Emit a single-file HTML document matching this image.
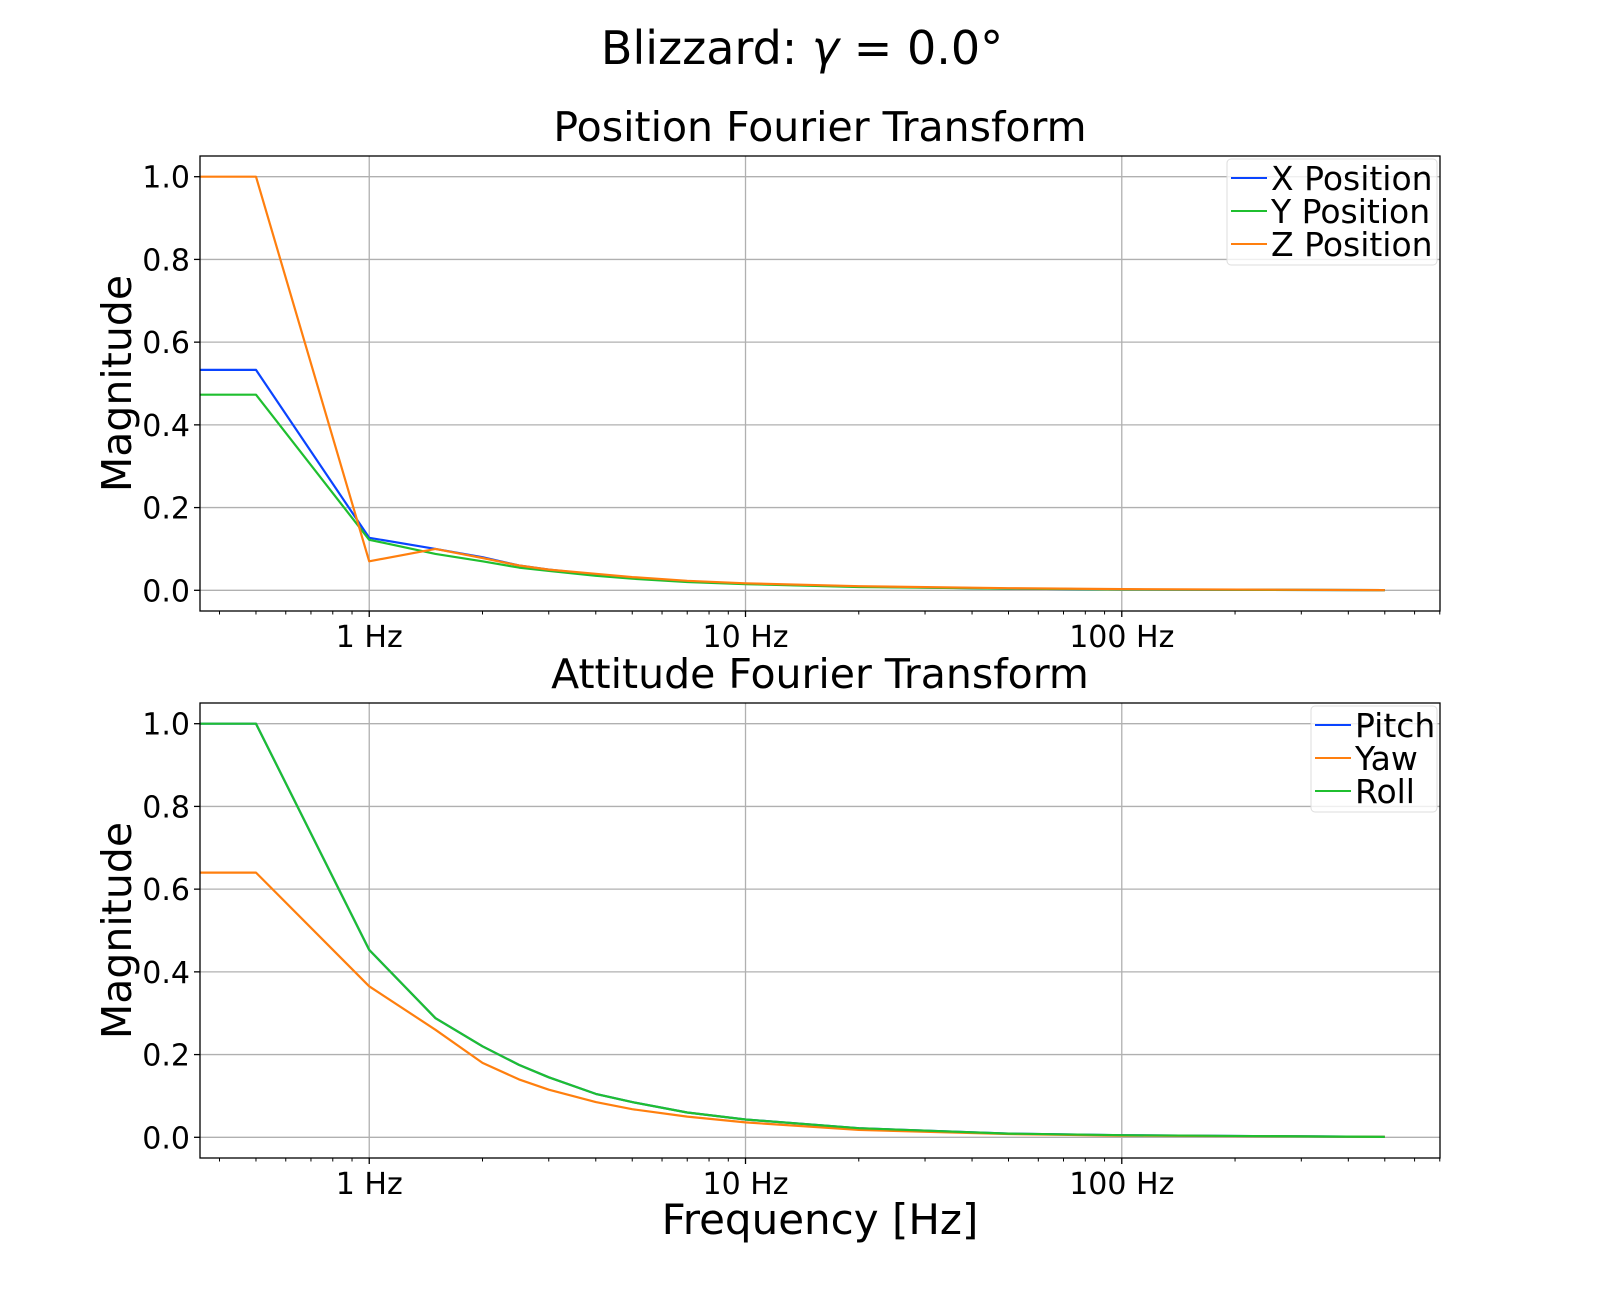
<!DOCTYPE html>
<html><head><meta charset="utf-8"><style>
html,body{margin:0;padding:0;background:#fff;width:1600px;height:1300px;overflow:hidden}
svg text{font-family:"DejaVu Sans","Liberation Sans",sans-serif;fill:#000}
</style></head><body>
<svg id="fig" width="1600" height="1300" xmlns="http://www.w3.org/2000/svg">
<text x="802" y="64" font-size="46" text-anchor="middle">Blizzard: <tspan font-style="italic">γ</tspan> = 0.0°</text>
<text x="820" y="1234" font-size="42" text-anchor="middle">Frequency [Hz]</text>
</svg>
<script>
const freqs=[0.355,0.5,1,1.5,2,2.5,3,4,5,7,10,20,50,100,500];
const xPos=[0.533,0.533,0.127,0.10,0.08,0.06,0.05,0.038,0.03,0.022,0.016,0.009,0.004,0.002,0.0005];
const yPos=[0.473,0.473,0.122,0.088,0.07,0.055,0.047,0.035,0.028,0.02,0.015,0.008,0.004,0.002,0.0005];
const zPos=[1.0,1.0,0.07,0.10,0.078,0.06,0.05,0.04,0.032,0.023,0.017,0.01,0.005,0.003,0.0006];
const pitch=[1.0,1.0,0.453,0.288,0.22,0.175,0.145,0.105,0.085,0.06,0.043,0.022,0.009,0.005,0.001];
const yaw=[0.64,0.64,0.365,0.26,0.18,0.14,0.115,0.085,0.068,0.05,0.036,0.018,0.008,0.004,0.001];
const roll=[1.0,1.0,0.453,0.288,0.22,0.175,0.145,0.105,0.085,0.06,0.043,0.022,0.009,0.005,0.001];
const yTicks=[0,0.2,0.4,0.6,0.8,1.0];
const yTickLabels=["0.0","0.2","0.4","0.6","0.8","1.0"];
const xTicks=[1,10,100];
const xTickLabels=["1 Hz","10 Hz","100 Hz"];
const BLUE="#0a44ff",ORANGE="#ff7f0e",GREEN="#1fbf2f";
const NS="http://www.w3.org/2000/svg";
const svg=document.getElementById('fig');
function mk(tag,attrs,parent){const e=document.createElementNS(NS,tag);for(const k in attrs)e.setAttribute(k,attrs[k]);(parent||svg).appendChild(e);return e;}
const L=200,R=1440,xmin=Math.log10(0.355),xmax=Math.log10(701);
function X(f){return L+(Math.log10(f)-xmin)/(xmax-xmin)*(R-L);}
function panel(top,title,series,legend,prefix){
  const bottom=top+455,y1=top+20.7,y0=top+434.3;
  const Y=v=>y0-(v)*(y0-y1);
  const g=mk('g',{});
  
  
  const t=mk('text',{x:820,y:top-15,'font-size':41,'text-anchor':'middle'},g);t.textContent=title;
  
  yTicks.forEach((v,i)=>{
    const gl=mk('line',{x1:L,x2:R,y1:Y(v),y2:Y(v),stroke:'#b0b0b0','stroke-width':1.3},g);
    
    mk('line',{x1:L-6,x2:L,y1:Y(v),y2:Y(v),stroke:'#000','stroke-width':1.3},g);
    const tl=mk('text',{x:L-10,y:Y(v)+11,'font-size':30,'text-anchor':'end'},g);tl.textContent=yTickLabels[i];
    
  });
  xTicks.forEach((f,i)=>{
    const gl=mk('line',{x1:X(f),x2:X(f),y1:top,y2:bottom,stroke:'#b0b0b0','stroke-width':1.3},g);
    
    mk('line',{x1:X(f),x2:X(f),y1:bottom,y2:bottom+6,stroke:'#000','stroke-width':1.3},g);
    const tl=mk('text',{x:X(f),y:bottom+36,'font-size':30,'text-anchor':'middle'},g);tl.textContent=xTickLabels[i];
    
  });
  [0.1,1,10,100].forEach(d=>{for(let m=2;m<=9;m++){const f=d*m;if(f<0.355||f>701)continue;
    mk('line',{x1:X(f),x2:X(f),y1:bottom,y2:bottom+3.5,stroke:'#000','stroke-width':1},g);}});
  series.forEach(s=>{
    const pts=freqs.map((f,i)=>X(f).toFixed(1)+','+Y(s.data[i]).toFixed(1)).join(' ');
    const p=mk('polyline',{points:pts,fill:'none',stroke:s.color,'stroke-width':2.2,'stroke-linejoin':'round'},g);
    
    
  });
  const sp=mk('rect',{x:L,y:top,width:R-L,height:bottom-top,fill:'none',stroke:'#000','stroke-width':1.3},g);
  
  const yl=mk('text',{x:0,y:0,'font-size':41,'text-anchor':'middle',transform:`translate(131,${(top+bottom)/2}) rotate(-90)`},g);
  yl.textContent='Magnitude';
  const lg=mk('g',{},g);
  mk('rect',{x:legend.x,y:top+3,width:1437-legend.x,height:106,fill:'#fff','fill-opacity':0.8,stroke:'#ddd',rx:4},lg);
  series.forEach((s,i)=>{
    const yy=top+22+i*33;
    mk('line',{x1:legend.x+4,x2:legend.x+40,y1:yy,y2:yy,stroke:s.color,'stroke-width':2},lg);
    const tx=mk('text',{x:legend.x+44,y:yy+12,'font-size':33},lg);tx.textContent=s.name;
    
  });
}
panel(156,'Position Fourier Transform',[{name:'X Position',data:xPos,color:BLUE},{name:'Y Position',data:yPos,color:GREEN},{name:'Z Position',data:zPos,color:ORANGE}],{x:1227},'position');
panel(703,'Attitude Fourier Transform',[{name:'Pitch',data:pitch,color:BLUE},{name:'Yaw',data:yaw,color:ORANGE},{name:'Roll',data:roll,color:GREEN}],{x:1311},'attitude');
</script>
</body></html>
